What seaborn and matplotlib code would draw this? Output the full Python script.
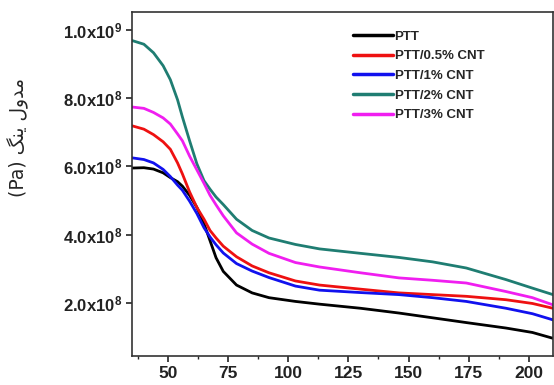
import matplotlib
matplotlib.use("Agg")
import matplotlib.pyplot as plt
from matplotlib.ticker import MultipleLocator, FixedLocator, FuncFormatter
import seaborn as sns
import pandas as pd

# ---- data ----
temperature = [35, 40, 44, 48, 51, 54, 56, 59, 62, 65, 67.5, 70, 73, 78.5, 85, 92,
               103, 113, 130, 146, 160, 174, 190.5, 201.5, 210]
series_names = ["PTT", "PTT/0.5% CNT", "PTT/1% CNT", "PTT/2% CNT", "PTT/3% CNT"]
ptt    = [5.95e8, 5.96e8, 5.92e8, 5.81e8, 5.67e8, 5.55e8, 5.42e8, 5.15e8, 4.80e8, 4.32e8, 3.82e8, 3.32e8, 2.92e8,
          2.52e8, 2.29e8, 2.15e8, 2.04e8, 1.96e8, 1.84e8, 1.70e8, 1.56e8, 1.42e8, 1.26e8, 1.13e8, 0.96e8]
ptt_05 = [7.19e8, 7.09e8, 6.93e8, 6.72e8, 6.50e8, 6.10e8, 5.78e8, 5.25e8, 4.80e8, 4.45e8, 4.12e8, 3.90e8, 3.66e8,
          3.35e8, 3.08e8, 2.88e8, 2.64e8, 2.52e8, 2.40e8, 2.29e8, 2.24e8, 2.19e8, 2.09e8, 1.98e8, 1.84e8]
ptt_1  = [6.25e8, 6.20e8, 6.10e8, 5.91e8, 5.70e8, 5.45e8, 5.30e8, 4.98e8, 4.62e8, 4.20e8, 3.93e8, 3.70e8, 3.46e8,
          3.15e8, 2.93e8, 2.74e8, 2.49e8, 2.37e8, 2.30e8, 2.24e8, 2.15e8, 2.04e8, 1.84e8, 1.68e8, 1.50e8]
ptt_2  = [9.69e8, 9.58e8, 9.33e8, 8.95e8, 8.54e8, 7.95e8, 7.45e8, 6.75e8, 6.08e8, 5.58e8, 5.33e8, 5.10e8, 4.88e8,
          4.45e8, 4.12e8, 3.90e8, 3.71e8, 3.58e8, 3.45e8, 3.33e8, 3.20e8, 3.02e8, 2.68e8, 2.43e8, 2.24e8]
ptt_3  = [7.74e8, 7.70e8, 7.58e8, 7.42e8, 7.24e8, 6.95e8, 6.75e8, 6.30e8, 5.90e8, 5.50e8, 5.15e8, 4.87e8, 4.55e8,
          4.05e8, 3.72e8, 3.45e8, 3.18e8, 3.05e8, 2.88e8, 2.73e8, 2.66e8, 2.58e8, 2.33e8, 2.15e8, 1.94e8]
series_values = [ptt, ptt_05, ptt_1, ptt_2, ptt_3]
colors = ["#000000", "#ee1111", "#1111ee", "#1f7d72", "#f01ef0"]
x_ticks = [50, 75, 100, 125, 150, 175, 200]
y_ticks = [2e8, 4e8, 6e8, 8e8, 1e9]
# Persian label "مدول ینگ (Pa)" written with presentation forms in visual order
ylabel_text = "(Pa) \uFB93\uFEE8\uFBFE \uFEDD\uFEED\uFEAA\uFEE3"

rows = []
for name, vals in zip(series_names, series_values):
    for t, v in zip(temperature, vals):
        rows.append({"T": t, "E": v, "sample": name})
df = pd.DataFrame(rows)

sns.set_style("ticks")
plt.rcParams["font.family"] = ["Liberation Sans", "DejaVu Sans"]
plt.rcParams["mathtext.fontset"] = "custom"
plt.rcParams["mathtext.bf"] = "Liberation Sans:bold"
plt.rcParams["mathtext.rm"] = "Liberation Sans:bold"
plt.rcParams["mathtext.default"] = "bf"

fig = plt.figure(figsize=(5.54, 3.85), dpi=100)
ax = fig.add_axes([0.238, 0.0753, 0.760, 0.894])

sns.lineplot(data=df, x="T", y="E", hue="sample", hue_order=series_names,
             palette=colors, linewidth=2.0, ax=ax, sort=True)

ax.set_xlim(35, 210)
ax.set_ylim(4.4e7, 1.053e9)
ax.xaxis.set_major_locator(FixedLocator(x_ticks))
ax.xaxis.set_minor_locator(MultipleLocator(12.5))
ax.yaxis.set_major_locator(FixedLocator(y_ticks))


def yfmt(v, pos):
    exp = 9 if v >= 1e9 else 8
    mant = v / 10 ** exp
    return f"{mant:.1f}x10$^{{{exp}}}$"


ax.yaxis.set_major_formatter(FuncFormatter(yfmt))
ax.tick_params(axis="both", which="major", direction="out", length=4, width=1.2,
               colors="#222222")
ax.tick_params(axis="x", which="major", labelsize=12.5, pad=3)
ax.tick_params(axis="y", which="major", labelsize=12, pad=3)
ax.tick_params(axis="x", which="minor", direction="out", length=2.5, width=1.0)
for lab in ax.get_xticklabels() + ax.get_yticklabels():
    lab.set_fontweight("bold")
for s in ax.spines.values():
    s.set_visible(True)
    s.set_linewidth(1.2)
    s.set_color("#333333")

ax.set_xlabel("")
ax.set_ylabel(ylabel_text, fontsize=13.5, family=["DejaVu Sans"])
ax.yaxis.set_label_coords(-0.245, 0.634)

leg = ax.legend(loc="upper left", bbox_to_anchor=(0.497, 0.98), frameon=False,
                handlelength=3.0, handletextpad=0.15, labelspacing=0.56,
                prop={"weight": "bold", "size": 9.5})
for line in leg.get_lines():
    line.set_linewidth(2.5)

fig.savefig("out.png", dpi=100)
